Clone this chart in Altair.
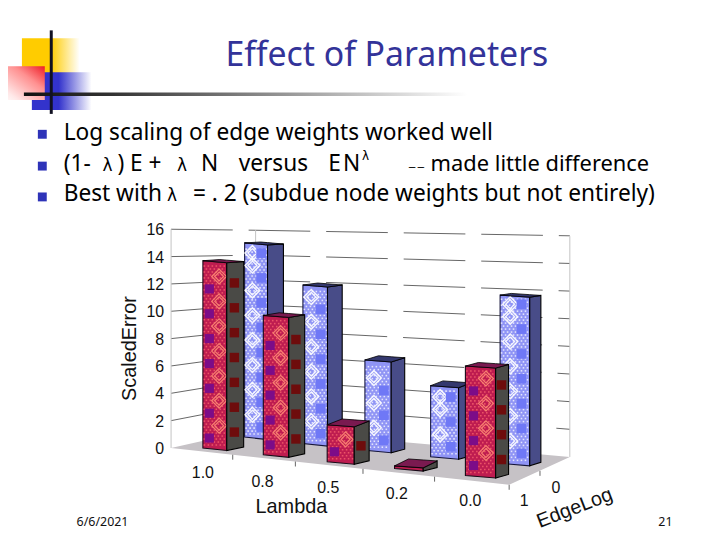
import altair as alt
import pandas as pd

# ---- values ----
lambda_labels = ["1.0", "0.8", "0.5", "0.2", "0.0"]
edgelog_1 = [13.7, 10.2, 2.7, 0.2, 8.0]     # front row (red)
edgelog_0 = [14.2, 11.6, 6.6, 5.2, 12.3]    # back row (blue)
error_ticks = [0, 2, 4, 6, 8, 10, 12, 14, 16]
title_text = "Effect of Parameters"
date_text = "6/6/2021"
page_text = "21"

# ---- layout ----
W, H = 708, 528
UNIT = 13.75
ZERO = 450
FONT = "Noto Sans"
AXF = "Liberation Sans"


def lv(py):
    return (ZERO - py) / UNIT


x_enc = dict(scale=alt.Scale(domain=[8, 8 + W], nice=False, zero=False), axis=None)
y_scale = alt.Scale(domain=[lv(8 + H), lv(8)], nice=False, zero=False)


def envelope(face, corners):
    xs = sorted({c[0] for c in corners})
    rows = []
    n = len(corners)
    for x in xs:
        hits = []
        for k in range(n):
            (x0, y0), (x1, y1) = corners[k], corners[(k + 1) % n]
            if min(x0, x1) <= x <= max(x0, x1):
                if x0 == x1:
                    hits += [y0, y1]
                else:
                    hits.append(y0 + (y1 - y0) * (x - x0) / (x1 - x0))
        rows.append(dict(face=face, x=x, top=lv(min(hits)), bot=lv(max(hits))))
    return rows


def area(rows, fill, stroke=None, sw=1.0):
    kw = dict(fill=fill, interpolate="linear", opacity=1)
    if stroke:
        kw.update(stroke=stroke, strokeWidth=sw)
    return alt.Chart(pd.DataFrame(rows)).mark_area(**kw).encode(
        x=alt.X("x:Q", **x_enc),
        y=alt.Y("top:Q", scale=y_scale, axis=None),
        y2="bot:Q",
        detail="face:N",
    )


def pts(rows, **mark):
    return alt.Chart(pd.DataFrame(rows)).mark_point(**mark).encode(
        x=alt.X("x:Q", **x_enc),
        y=alt.Y("lev:Q", scale=y_scale, axis=None),
    )


def text(rows, **mark):
    return alt.Chart(pd.DataFrame(rows)).mark_text(**mark).encode(
        x=alt.X("x:Q", **x_enc),
        y=alt.Y("lev:Q", scale=y_scale, axis=None),
        text="t:N",
    )


def rect(x0, x1, y0, y1, fill):
    return alt.Chart(pd.DataFrame([dict(a=x0, b=x1, c=lv(y0), d=lv(y1))])).mark_rect(color=fill).encode(
        x=alt.X("a:Q", **x_enc),
        x2="b:Q",
        y=alt.Y("c:Q", scale=y_scale, axis=None),
        y2="d:Q",
    )


def line(rows, color, sw=1.0, dash=None):
    kw = dict(color=color, strokeWidth=sw, interpolate="linear")
    if dash:
        kw["strokeDash"] = dash
    return alt.Chart(pd.DataFrame(rows)).mark_line(**kw).encode(
        x=alt.X("x:Q", **x_enc),
        y=alt.Y("lev:Q", scale=y_scale, axis=None),
        detail="g:N",
    )


def bar_parts(values, row):
    """Project each value into the oblique 3-D view."""
    front, side, top, big, small, blot, sblot, dots = [], [], [], [], [], [], [], []
    for i, v in enumerate(values):
        if row == "red":
            xl = 204 + 60.75 * i + 1.75 * i * (i - 1)
            w = 24 + 1.6 * i
            s = 17 - 1.0 * i
            base = 449 + 6.9 * i
        else:
            xl = 246 + 58.6 * i + 1.875 * i * (i - 1)
            w = 23 + 1.7 * i
            s = 16 - 1.2 * i
            base = 438 + 6.6 * i
        h = v * UNIT
        t = base - h
        rise = 1 + 0.43 * (14 - v)
        xr, xs = xl + w, xl + w + s
        fid = f"{row}{i}"
        front += envelope(fid, [(xl, t), (xr, t + 2), (xr, base + 2.5), (xl, base)])
        side += envelope(fid, [(xr, t + 2), (xs, t + 2 - rise), (xs, base - 1), (xr, base + 2.5)])
        top += envelope(fid, [(xl, t), (xl + s, t - rise), (xs, t + 2 - rise), (xr, t + 2)])
        colA = xl + w * 0.27
        colB = xl + w * 0.68
        if row == "blue":
            colA, colB = xl + w * 0.72, xl + w * 0.34
        py = base - 10
        while py > t + 8 and h > 16:
            blot.append(dict(x=colA, lev=lv(py)))
            yy = py - 12.5 if py - 12.5 > t + 9 else py
            big.append(dict(x=colB, lev=lv(yy)))
            small.append(big[-1])
            sblot.append(dict(x=xr + s * 0.45, lev=lv(py - 6)))
            py -= 25
        if h > 16:
            py = base - 3
            r = 0
            while py > t + 4:
                dx = 1.5 + (r % 2) * 2
                while dx < w - 1:
                    dots.append(dict(x=xl + dx, lev=lv(py)))
                    dx += 4
                py -= 3
                r += 1
    return front, side, top, big, small, blot, sblot, dots


layers = []

# ---- slide ornament ----
fade = lambda stops, **kw: alt.LinearGradient(
    gradient="linear",
    stops=[alt.GradientStop(offset=o, color=c) for o, c in stops],
    **kw,
)
layers.append(rect(22, 80, 37, 72, fade([(0, "#FFCC00"), (0.5, "#FFCC00"), (1, "#FFFFFF")], x1=0, x2=1, y1=0, y2=0)))
layers.append(rect(32, 92, 71, 109, fade([(0, "#3333CC"), (0.45, "#3333CC"), (1, "#FFFFFF")], x1=0, x2=1, y1=0, y2=0)))
layers.append(rect(0, 45, 65, 99, fade([(0, "#EE1C25"), (0.35, "#FF9090"), (0.8, "#FFE8E8"), (1, "#FFFFFF")], x1=1, x2=0, y1=0, y2=1)))
layers.append(rect(24, 470, 91.5, 95, fade([(0, "#111111"), (0.2, "#333333"), (1, "#FFFFFF")], x1=0, x2=1, y1=0, y2=0)))
layers.append(rect(50, 53, 29, 113, "#111122"))

# bullets
bullet_py = [133.5, 165.5, 196.5]
layers.append(pts([dict(x=42.5, lev=lv(p)) for p in bullet_py], shape="square", size=80, filled=True, color="#2E33B8", opacity=1))

# title
layers.append(text([dict(x=389, lev=lv(65), t=title_text)], font=FONT, fontSize=34, color="#333399", align="center", baseline="alphabetic"))

# bullet lines, split where the slide leaves wide gaps or uses a symbol
body = [
    (64, 139, "Log scaling of edge weights worked well"),
    (64, 170, "(1-"),
    (118, 170, ") E +"),
    (202, 170, "N"),
    (240, 170, "versus"),
    (330, 170, "E"),
    (345, 170, "N"),
    (64, 201, "Best with"),
    (194, 201, "= . 2 (subdue node weights but not entirely)"),
]
layers.append(text([dict(x=a, lev=lv(b), t=c) for a, b, c in body], font=FONT, fontSize=22.8, color="#000000", align="left", baseline="alphabetic"))
layers.append(text([dict(x=433, lev=lv(170), t="made little difference")], font=FONT, fontSize=22, color="#000000", align="left", baseline="alphabetic"))
sym = [(103, 170), (178, 170), (168, 201)]
layers.append(text([dict(x=a, lev=lv(b), t="λ") for a, b in sym], font="DejaVu Sans", fontSize=17, color="#000000", align="left", baseline="alphabetic"))
layers.append(text([dict(x=364, lev=lv(159), t="λ")], font="DejaVu Sans", fontSize=12, color="#000000", align="left", baseline="alphabetic"))
layers.append(text([dict(x=410, lev=lv(170), t="−−")], font="DejaVu Sans", fontSize=10.5, color="#000000", align="left", baseline="alphabetic"))

# footer
layers.append(text([dict(x=77, lev=lv(527), t=date_text), dict(x=662, lev=lv(527), t=page_text)], font=FONT, fontSize=12.5, color="#111111", align="left", baseline="alphabetic"))

# ---- 3-D frame ----
L, B, R, F = (172, 449), (257, 430), (573, 458), (512, 486)
layers.append(area(envelope("floor", [L, B, R, F]), "#C6C2C6"))
grid = []
for v in error_ticks[1:]:
    grid += [
        dict(g=v, x=172, lev=lv(449 - 13.75 * v)),
        dict(g=v, x=257, lev=lv(430 - 12.5 * v)),
        dict(g=v, x=573, lev=lv(458 - 13.9 * v)),
    ]
layers.append(line(grid, "#666666", 1.0, [62, 16]))
walls = []
for n, (x, a, b) in enumerate([(172, 449, 229), (257, 430, 230), (573, 458, 236)]):
    walls += [dict(g=n, x=x, lev=lv(a)), dict(g=n, x=x + 0.01, lev=lv(b))]
layers.append(line(walls, "#C4C4C4", 1.0))

# floor ticks
ticks = []
for n, x in enumerate([234, 297, 365, 437, 512]):
    yy = 449 + (x - 172) * 37 / 340
    ticks += [dict(g=n, x=x, lev=lv(yy)), dict(g=n, x=x + 0.01, lev=lv(yy + 5))]
ticks += [dict(g=9, x=543, lev=lv(472)), dict(g=9, x=543.01, lev=lv(477))]
layers.append(line(ticks, "#666666", 1.0))

# ---- bars: back row, then front row ----
f, s, t, big, small, blot, sblot, dots = bar_parts(edgelog_0, "blue")
layers.append(area(f, "#8F94F5", "#15153A", 1.1))
layers.append(pts(dots, shape="square", size=2.5, filled=True, color="#FFFFFF", opacity=0.75))
layers.append(pts(big, shape="diamond", size=225, filled=False, color="#FFFFFF", strokeWidth=1.5, opacity=0.9))
layers.append(pts(small, shape="diamond", size=80, filled=False, color="#FFFFFF", strokeWidth=1.3, opacity=0.9))
layers.append(pts(blot, shape="square", size=95, filled=True, color="#6F78F6", opacity=1))
layers.append(area(s, "#484C88", "#000000", 1.1))
layers.append(area(t, "#34386E", "#000000", 0.8))

f, s, t, big, small, blot, sblot, dots = bar_parts(edgelog_1, "red")
layers.append(area(f, "#BE1C50", "#1A0A18", 1.1))
layers.append(pts(dots, shape="square", size=2.5, filled=True, color="#F05A68", opacity=0.9))
layers.append(pts(big, shape="diamond", size=225, filled=False, color="#F88070", strokeWidth=1.2, opacity=1))
layers.append(pts(small, shape="diamond", size=80, filled=False, color="#F88070", strokeWidth=1.2, opacity=1))
layers.append(pts(blot, shape="square", size=85, filled=True, color="#7C0C88", opacity=1))
layers.append(area(s, "#4A4A46", "#000000", 1.1))
layers.append(pts(sblot, shape="square", size=90, filled=True, color="#6E0C0C", opacity=1))
layers.append(area(t, "#7A1A50", "#000000", 0.8))

# ---- axis labels ----
layers.append(alt.Chart(pd.DataFrame(dict(v=error_ticks))).mark_text(
    font=AXF, fontSize=16, color="#111111", align="right", baseline="middle"
).encode(
    x=alt.value(165 - 8),
    y=alt.Y("v:Q", scale=y_scale, axis=None),
    text=alt.Text("v:Q", format="d"),
))
layers.append(text([dict(x=137, lev=lv(349), t="ScaledError")], font=AXF, fontSize=20, angle=270, color="#111111", align="center", baseline="alphabetic"))
layers.append(text([dict(x=a, lev=lv(b), t=c) for a, b, c in zip([204, 264, 330, 399, 473], [479, 488, 494, 500, 507], lambda_labels)],
                   font=AXF, fontSize=16, color="#111111", align="center", baseline="alphabetic"))
layers.append(text([dict(x=527, lev=lv(507), t="1"), dict(x=559, lev=lv(494), t="0")],
                   font=AXF, fontSize=16, color="#111111", align="center", baseline="alphabetic"))
layers.append(text([dict(x=293, lev=lv(514), t="Lambda")], font=AXF, fontSize=20, color="#111111", align="center", baseline="alphabetic"))
layers.append(text([dict(x=580, lev=lv(515), t="EdgeLog")], font=AXF, fontSize=20, angle=339, color="#111111", align="center", baseline="alphabetic"))

chart = alt.layer(*layers).properties(
    width=W,
    height=H,
    padding=0,
    autosize=alt.AutoSizeParams(type="none"),
    background="#FFFFFF",
).configure_view(stroke=None)

chart.save("out.html", embed_options={"renderer": "svg", "actions": False})
